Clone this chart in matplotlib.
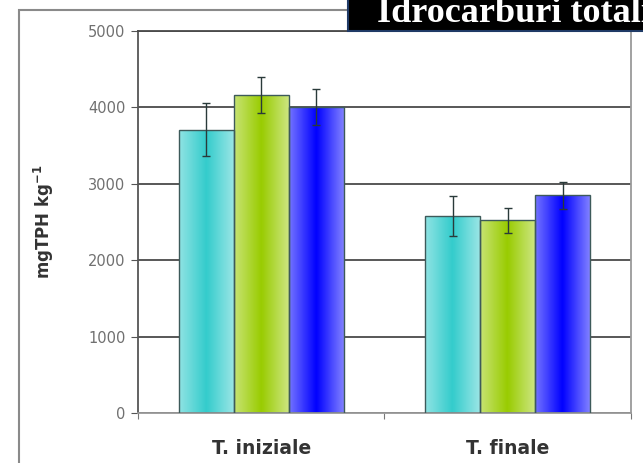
import numpy as np
import matplotlib.pyplot as plt
from matplotlib.colors import LinearSegmentedColormap, to_rgb
from matplotlib.patches import Rectangle

categories = ['T. iniziale', 'T. finale']
series_colors = ['#33CCCC', '#99CC00', '#0000FF']
values = [
    [3710, 2575],
    [4160, 2520],
    [4010, 2850],
]
errors = [
    [350, 260],
    [235, 160],
    [235, 175],
]
yticks = [0, 1000, 2000, 3000, 4000, 5000]
title = 'Idrocarburi totali'
ylabel = r'mgTPH kg$^{\mathbf{-1}}$'


def lighten(color, amount):
    '''Mix a colour with white.'''
    r, g, b = to_rgb(color)
    return (r + (1 - r) * amount, g + (1 - g) * amount, b + (1 - b) * amount)


def gradient_bar(ax, bar, color):
    '''Fill a bar with a light-dark-light horizontal gradient.'''
    x0, y0 = bar.get_x(), bar.get_y()
    w, h = bar.get_width(), bar.get_height()
    cmap = LinearSegmentedColormap.from_list(
        'g', [lighten(color, 0.45), color, lighten(color, 0.5)])
    grad = np.linspace(0, 1, 64).reshape(1, -1)
    im = ax.imshow(
        grad,
        extent=(x0, x0 + w, y0, y0 + h),
        aspect='auto',
        cmap=cmap,
        zorder=2,
        origin='lower')
    im.set_clip_path(bar)


fig = plt.figure(figsize=(6.43, 4.63), dpi=100)
fig.patch.set_facecolor('white')

# chart area border
fig.patches.append(Rectangle(
    (19 / 643, -0.1), 1.0, 1.1 - 10 / 463,
    transform=fig.transFigure, fill=False,
    edgecolor='#8a8a8a', lw=1.5, zorder=0))

ax = fig.add_axes([0.2146, 0.108, 0.7667, 0.825])
x = np.arange(len(categories))
width = 0.223
offsets = [-width, 0, width]

for i, (vals, errs, col) in enumerate(zip(values, errors, series_colors)):
    bars = ax.bar(
        x + offsets[i],
        vals,
        width,
        color='none',
        edgecolor='#3d5a5a',
        lw=1.0,
        zorder=3)
    for b in bars:
        gradient_bar(ax, b, col)
    ax.errorbar(
        x + offsets[i],
        vals,
        yerr=errs,
        fmt='none',
        ecolor='#2a3a3a',
        elinewidth=1.0,
        capsize=3,
        capthick=1.0,
        zorder=4)

ax.set_xlim(-0.5, 1.5)
ax.set_ylim(0, 5000)
ax.set_yticks(yticks)
ax.set_yticklabels([str(t) for t in yticks])
ax.yaxis.grid(True, color='#4a4a4a', lw=1.3)
ax.set_axisbelow(True)

ax.set_xticks([-0.5, 0.5, 1.5], minor=False)
ax.set_xticklabels(['', '', ''])
ax.set_xticks(x, minor=True)
ax.set_xticklabels(categories, minor=True, fontsize=13.5,
                   fontweight='bold', color='#333333')
ax.tick_params(axis='x', which='minor', length=0, pad=19)
ax.tick_params(axis='x', which='major', length=4, color='#777777',
               direction='out')
ax.tick_params(axis='y', length=5, color='#555555', direction='out',
               labelsize=10.5, labelcolor='#707070', pad=4)

ax.spines['top'].set_color('#4a4a4a')
ax.spines['top'].set_linewidth(1.3)
ax.spines['right'].set_color('#9a9a9a')
ax.spines['right'].set_linewidth(1.3)
ax.spines['left'].set_color('#555555')
ax.spines['left'].set_linewidth(1.3)
ax.spines['bottom'].set_color('#999999')
ax.spines['bottom'].set_linewidth(1.3)

ax.set_ylabel(ylabel, fontsize=12, fontweight='bold', color='#333333')
ax.yaxis.set_label_coords(-0.167, 0.5)

# title box in the upper right corner
fig.patches.append(Rectangle(
    (348 / 643, 1 - 31 / 463), 0.5, 0.2,
    transform=fig.transFigure, facecolor='black',
    edgecolor='#1f3a66', lw=1.5, zorder=5))
fig.text(377 / 643, 1 - 22 / 463, title,
         family='Liberation Serif', fontweight='bold', fontsize=26,
         color='white', ha='left', va='baseline', zorder=6)

fig.savefig('out.png', dpi=100)
